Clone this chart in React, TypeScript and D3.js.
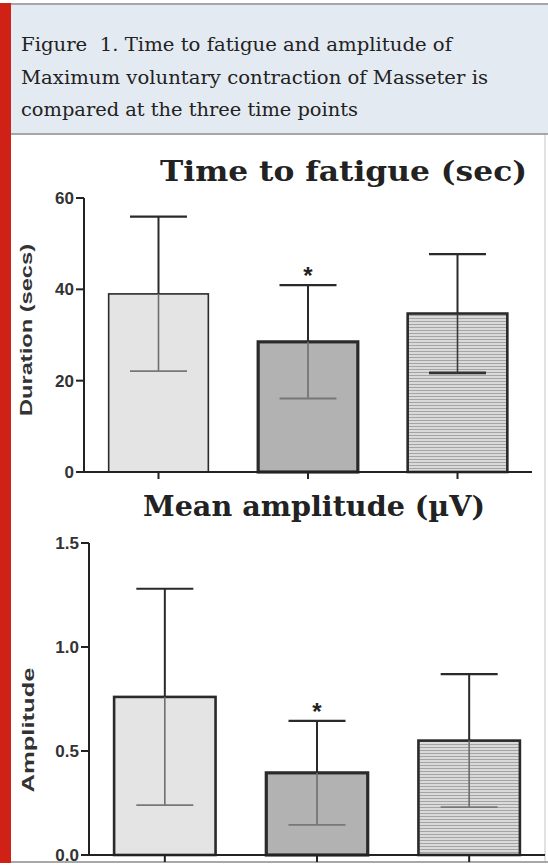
import React from "react";
import * as d3 from "d3";

// ---- data ----
const categories = ["T1", "T2", "T3"];
const fatigueMean = [39.0, 28.5, 34.7];
const fatigueSD = [16.9, 12.4, 13.0];
const fatigueTicks = [0, 20, 40, 60];
const ampMean = [0.76, 0.395, 0.55];
const ampSD = [0.52, 0.25, 0.32];
const ampTicks = [0, 0.5, 1.0, 1.5];
const significant = [false, true, false];
const captionLines = [
  "Figure  1. Time to fatigue and amplitude of",
  "Maximum voluntary contraction of Masseter is",
  "compared at the three time points",
];
const captionWidths = [431, 467, 337];

const W = 548;
const H = 867;

type PanelProps = {
  title: string;
  titleX: number;
  titleY: number;
  titleLen: number;
  titleSize: number;
  yLabel: string;
  yLabelLen: number;
  yLabelX: number;
  yLabelY: number;
  means: number[];
  sds: number[];
  ticks: number[];
  fmt: (v: number) => string;
  axisX: number;
  axisEnd: number;
  y0: number;
  y1: number;
  yMax: number;
  bar1Stroke: number;
  darkLowerCap3: boolean;
  star: boolean[];
};

const fills = ["#e4e4e4", "#b2b2b2", "url(#stripes)"];
const strokes = [1.6, 3.2, 2.6];

function Panel(p: PanelProps) {
  const x = d3
    .scaleBand<string>()
    .domain(categories)
    .range([p.axisX, p.axisEnd])
    .paddingInner(1 / 3)
    .paddingOuter(0.165);
  const y = d3.scaleLinear().domain([0, p.yMax]).range([p.y0, p.y1]);
  const bw = x.bandwidth();
  const cap = 57;
  return (
    <g>
      <text
        x={p.titleX}
        y={p.titleY}
        fontFamily="'DejaVu Serif', serif"
        fontWeight="bold"
        fontSize={p.titleSize}
        fill="#222"
        textLength={p.titleLen}
        lengthAdjust="spacingAndGlyphs"
      >
        {p.title}
      </text>
      {/* bars */}
      {categories.map((c, i) => {
        const bx = x(c)!;
        const top = y(p.means[i]);
        const sw = i === 0 ? p.bar1Stroke : strokes[i];
        return (
          <rect
            key={"b" + c}
            x={bx}
            y={top}
            width={bw}
            height={p.y0 - top}
            fill={fills[i]}
            stroke="#2a2a2a"
            strokeWidth={sw}
          />
        );
      })}
      {/* error bars */}
      {categories.map((c, i) => {
        const cx = x(c)! + bw / 2;
        const top = y(p.means[i]);
        const hi = y(p.means[i] + p.sds[i]);
        const lo = y(p.means[i] - p.sds[i]);
        const darkLo = i === 2 && p.darkLowerCap3;
        return (
          <g key={"e" + c}>
            <line x1={cx} x2={cx} y1={hi} y2={top} stroke="#2a2a2a" strokeWidth={2} />
            <line x1={cx - cap / 2} x2={cx + cap / 2} y1={hi} y2={hi} stroke="#2a2a2a" strokeWidth={2.2} />
            <line x1={cx} x2={cx} y1={top} y2={lo} stroke={darkLo ? "#3a3a3a" : "#6e6e6e"} strokeWidth={1.6} />
            <line
              x1={cx - cap / 2}
              x2={cx + cap / 2}
              y1={lo}
              y2={lo}
              stroke={darkLo ? "#333" : "#777"}
              strokeWidth={darkLo ? 2.6 : 1.8}
            />
            {p.star[i] && (
              <text
                x={cx}
                y={hi - 1}
                textAnchor="middle"
                fontFamily="'Liberation Sans', Arial, sans-serif"
                fontWeight="bold"
                fontSize={24}
                fill="#222"
              >
                *
              </text>
            )}
          </g>
        );
      })}
      {/* y axis */}
      <line x1={p.axisX} x2={p.axisX} y1={p.y1} y2={p.y0 + 1} stroke="#222" strokeWidth={2} />
      {p.ticks.map((t) => (
        <g key={"t" + t}>
          <line x1={p.axisX - 8} x2={p.axisX} y1={y(t)} y2={y(t)} stroke="#222" strokeWidth={2} />
          <text
            x={p.axisX - 10}
            y={y(t)}
            dy="0.36em"
            textAnchor="end"
            fontFamily="'Liberation Sans', Arial, sans-serif"
            fontWeight="bold"
            fontSize={17}
            fill="#333"
          >
            {p.fmt(t)}
          </text>
        </g>
      ))}
      {/* x axis */}
      <line x1={p.axisX} x2={p.axisEnd} y1={p.y0} y2={p.y0} stroke="#222" strokeWidth={2} />
      {categories.map((c) => (
        <line
          key={"xt" + c}
          x1={x(c)! + bw / 2}
          x2={x(c)! + bw / 2}
          y1={p.y0}
          y2={p.y0 + 7}
          stroke="#222"
          strokeWidth={2}
        />
      ))}
      <text
        transform={`translate(${p.yLabelX},${p.yLabelY}) rotate(-90)`}
        textAnchor="middle"
        fontFamily="'Liberation Sans', Arial, sans-serif"
        fontWeight="bold"
        fontSize={17}
        fill="#333"
        textLength={p.yLabelLen}
        lengthAdjust="spacingAndGlyphs"
      >
        {p.yLabel}
      </text>
    </g>
  );
}

export default function App() {
  return (
    <svg
      width={W}
      height={H}
      style={{ position: "absolute", left: 0, top: 0, background: "#fff" }}
    >
      <defs>
        <pattern id="stripes" patternUnits="userSpaceOnUse" width={4} height={3}>
          <rect width={4} height={3} fill="#dadada" />
          <rect width={4} height={1} fill="#a4a4a4" />
        </pattern>
      </defs>
      <rect x={0} y={0} width={W} height={H} fill="#fff" />
      {/* header */}
      <rect x={11} y={4} width={W - 11} height={130} fill="#e4eaf1" />
      <line x1={11} x2={W} y1={4} y2={4} stroke="#a6a6a6" strokeWidth={2} />
      <line x1={11} x2={W} y1={134} y2={134} stroke="#a6a6a6" strokeWidth={2} />
      {captionLines.map((l, i) => (
        <text
          key={i}
          x={21}
          y={51 + i * 32.5}
          fontFamily="'DejaVu Serif', serif"
          fontSize={18.5}
          fill="#222"
          textLength={captionWidths[i]}
          lengthAdjust="spacingAndGlyphs"
          style={{ whiteSpace: "pre" }}
        >
          {l}
        </text>
      ))}
      {/* frame lines */}
      <line x1={545} x2={545} y1={135} y2={862} stroke="#c4c4c4" strokeWidth={1} />
      <line x1={11} x2={W} y1={862} y2={862} stroke="#a8a8a8" strokeWidth={2} />
      <rect x={0} y={3} width={11} height={860} fill="#cf2116" />

      <Panel
        title="Time to fatigue (sec)"
        titleX={160}
        titleY={181}
        titleLen={367}
        titleSize={28}
        yLabel="Duration (secs)"
        yLabelLen={172}
        yLabelX={32}
        yLabelY={330}
        means={fatigueMean}
        sds={fatigueSD}
        ticks={fatigueTicks}
        fmt={(v) => d3.format("d")(v)}
        axisX={84}
        axisEnd={532}
        y0={472}
        y1={198}
        yMax={60}
        bar1Stroke={1.6}
        darkLowerCap3={true}
        star={significant}
      />
      <Panel
        title="Mean amplitude (µV)"
        titleX={143}
        titleY={516}
        titleLen={342}
        titleSize={27}
        yLabel="Amplitude"
        yLabelLen={125}
        yLabelX={34}
        yLabelY={730}
        means={ampMean}
        sds={ampSD}
        ticks={ampTicks}
        fmt={(v) => d3.format(".1f")(v)}
        axisX={89}
        axisEnd={545}
        y0={855}
        y1={543}
        yMax={1.5}
        bar1Stroke={2.6}
        darkLowerCap3={false}
        star={significant}
      />
    </svg>
  );
}
